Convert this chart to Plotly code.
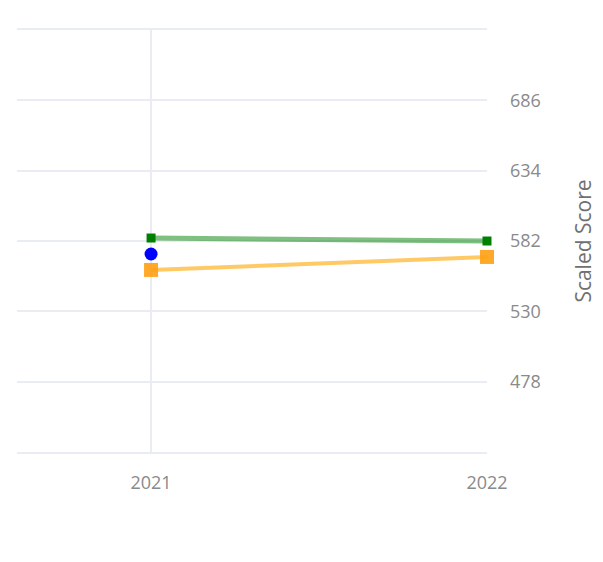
import plotly.graph_objects as go

years = [2021, 2022]
green_vals = [584.2, 582.0]
blue_years = [2021]
blue_vals = [572.4]
orange_vals = [560.6, 570.2]
y_ticks = [478, 530, 582, 634, 686]
x_ticks = [2021, 2022]

fig = go.Figure()
fig.add_trace(go.Scatter(x=years, y=orange_vals, mode="lines+markers",
                         line=dict(color="rgba(255,165,0,0.6)", width=4),
                         marker=dict(color="rgba(255,160,20,0.9)", symbol="square", size=14),
                         cliponaxis=False, showlegend=False))
fig.add_trace(go.Scatter(x=years, y=green_vals, mode="lines+markers",
                         line=dict(color="rgba(0,128,0,0.5)", width=5),
                         marker=dict(color="green", symbol="square", size=9),
                         cliponaxis=False, showlegend=False))
fig.add_trace(go.Scatter(x=blue_years, y=blue_vals, mode="markers",
                         marker=dict(color="blue", symbol="circle", size=13),
                         cliponaxis=False, showlegend=False))

fig.update_layout(
    template="plotly_white",
    width=595, height=554,
    margin=dict(l=9, r=116, t=22, b=110),
    font=dict(family="Open Sans", size=18, color="#8a8a8a"),
    xaxis=dict(range=[2020.601, 2022], tickvals=x_ticks, showgrid=True,
               gridcolor="#E9ECF2", gridwidth=2, zeroline=False, ticks="",
               showline=True, mirror=True, linecolor="#E9ECF2", linewidth=2,
               ticklabelstandoff=13),
    yaxis=dict(range=[426, 738], side="right", tickvals=y_ticks,
               gridcolor="#E9ECF2", gridwidth=2, zeroline=False, ticklabelstandoff=22,
               title=dict(text="Scaled Score", font=dict(size=21, color="#707070"), standoff=36)),
)
fig.write_html("out.html")
